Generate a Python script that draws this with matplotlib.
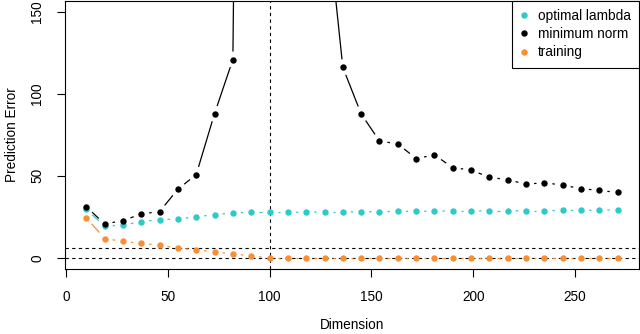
import numpy as np
import matplotlib
matplotlib.use('Agg')
import matplotlib.pyplot as plt

plt.rcParams['font.family'] = ['Liberation Sans', 'DejaVu Sans']
plt.rcParams['font.size'] = 9.8

# dimensions (10, 19, ..., 271)
dims = [10, 19, 28, 37, 46, 55, 64, 73, 82, 91, 100, 109, 118, 127, 136, 145,
        154, 163, 172, 181, 190, 199, 208, 217, 226, 235, 244, 253, 262, 271]

optimal_lambda = [29.5, 19.5, 19.9, 22.1, 23.3, 23.7, 25.1, 26.3, 27.4, 27.8,
                  27.8, 27.8, 27.9, 28.0, 28.0, 28.1, 28.2, 28.3, 28.4, 28.5,
                  28.6, 28.6, 28.7, 28.7, 28.8, 28.8, 28.9, 29.0, 29.1, 29.3]

minimum_norm = [31.2, 20.7, 22.7, 26.8, 28.2, 41.9, 50.8, 88.0, 121.0, 1200.0,
                3000.0, 700.0, 350.0, 223.0, 116.2, 87.8, 71.3, 69.5, 60.6, 62.8,
                55.0, 53.6, 49.1, 47.7, 44.9, 45.9, 44.3, 42.3, 41.1, 39.9]

training = [24.5, 11.8, 10.0, 8.8, 7.8, 5.8, 5.0, 3.6, 2.4, 1.2,
            0, 0, 0, 0, 0, 0, 0, 0, 0, 0,
            0, 0, 0, 0, 0, 0, 0, 0, 0, 0]

noise_level = 6.0
interp_dim = 100

col_opt = '#2CCACA'
col_min = 'black'
col_train = '#F98E33'

fig = plt.figure(figsize=(6.4, 3.34), dpi=100)
ax = fig.add_axes([65 / 640, (334 - 269) / 334, 574 / 640, 268 / 334])
ax.set_xlim(-0.44, 281.44)
ax.set_ylim(-6.8, 156.7)

# reference lines
ax.axhline(0, color='black', lw=0.8, dashes=(3, 3), zorder=1)
ax.axhline(noise_level, color='black', lw=0.8, dashes=(3, 3), zorder=1)
ax.axvline(interp_dim, color='black', lw=0.8, dashes=(3, 3), zorder=1)


def type_b(x, y, color, gap=8.0):
    # lines with a gap round every point, like R's type="b"
    pts = ax.transData.transform(np.column_stack([x, y]))
    inv = ax.transData.inverted()
    for p1, p2 in zip(pts[:-1], pts[1:]):
        d = p2 - p1
        L = np.hypot(*d)
        if L <= 2 * gap:
            continue
        u = d / L
        a, b = inv.transform([p1 + u * gap, p2 - u * gap])
        ax.plot([a[0], b[0]], [a[1], b[1]], color=color, lw=0.9, zorder=2,
                solid_capstyle='butt')
    ax.plot(x, y, 'o', color=color, ms=4.6, mec='none', zorder=3)


type_b(dims, optimal_lambda, col_opt)
type_b(dims, minimum_norm, col_min)
type_b(dims, training, col_train)

ax.set_xticks([0, 50, 100, 150, 200, 250])
ax.set_yticks([0, 50, 100, 150])
ax.tick_params(direction='out', length=6, width=0.8, pad=9)
plt.setp(ax.get_yticklabels(), rotation=90, va='center')
for s in ax.spines.values():
    s.set_linewidth(0.8)

ax.set_xlabel('Dimension', labelpad=10)
ax.set_ylabel('Prediction Error', labelpad=8)

handles = [plt.Line2D([], [], ls='none', marker='o', ms=4.6, mec='none', color=c)
           for c in (col_opt, col_min, col_train)]
leg = ax.legend(handles, ['optimal lambda', 'minimum norm', 'training'],
                loc='upper right', borderaxespad=0, fancybox=False,
                edgecolor='black', framealpha=1, handlelength=0.6,
                handletextpad=0.7, labelspacing=0.3, borderpad=0.6)
leg.get_frame().set_linewidth(0.8)

fig.savefig('out.png', dpi=100)
